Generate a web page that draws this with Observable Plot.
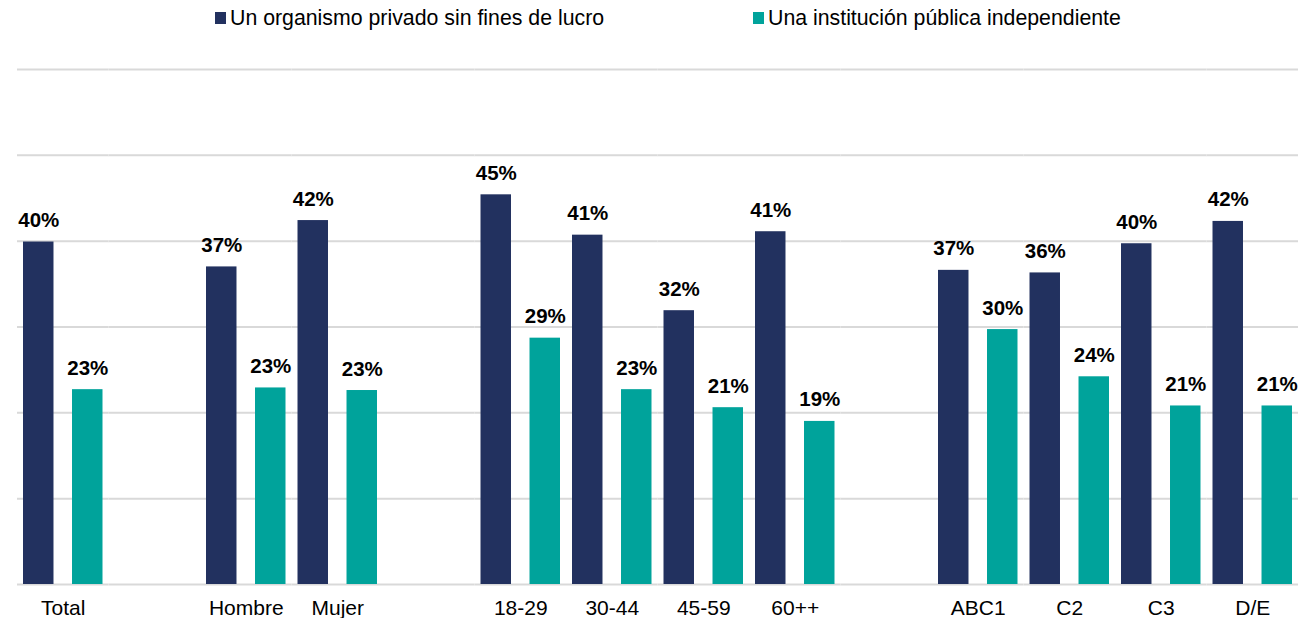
<!DOCTYPE html>
<html>
<head>
<meta charset="utf-8">
<script src="https://cdn.jsdelivr.net/npm/d3@7"></script>
<script src="https://cdn.jsdelivr.net/npm/@observablehq/plot@0.6"></script>
<style>
  html, body { margin: 0; padding: 0; background: #fff; }
  body { width: 1314px; height: 618px; overflow: hidden; font-family: "Liberation Sans", Arial, sans-serif; }
  #legend { height: 36px; display: flex; align-items: center; font-size: 21.3px; color: #000; position: relative; }
  .item { position: absolute; top: 0; height: 36px; display: flex; align-items: center; white-space: nowrap; }
  .sw { width: 11px; height: 12px; margin-right: 4px; display: inline-block; }
</style>
</head>
<body>
<div id="legend"></div>
<div id="chart"></div>
<script>
// Data
const categories = ["Total", "Hombre", "Mujer", "18-29", "30-44", "45-59", "60++", "ABC1", "C2", "C3", "D/E"];
const slots = ["Total", " ", "Hombre", "Mujer", "  ", "18-29", "30-44", "45-59", "60++", "   ", "ABC1", "C2", "C3", "D/E"];
const series = ["Un organismo privado sin fines de lucro", "Una institución pública independiente"];
const privado = [39.9, 37.0, 42.4, 45.4, 40.7, 31.9, 41.1, 36.6, 36.3, 39.7, 42.3];
const publica = [22.7, 22.9, 22.6, 28.7, 22.7, 20.6, 19.0, 29.7, 24.2, 20.8, 20.8];
const gridTicks = [0, 10, 20, 30, 40, 50, 60];
const colors = ["#22315f", "#00a39b"];

// Build table (blank slots keep facets present so gridlines stay continuous)
const rows = [];
for (const slot of slots) {
  const i = categories.indexOf(slot);
  rows.push({slot, series: series[0], value: i >= 0 ? privado[i] : null});
  rows.push({slot, series: series[1], value: i >= 0 ? publica[i] : null});
}

// Legend
const legend = document.getElementById("legend");
const legendLeft = [215, 753];
series.forEach((s, k) => {
  const it = document.createElement("div");
  it.className = "item";
  it.style.left = legendLeft[k] + "px";
  const sw = document.createElement("span");
  sw.className = "sw";
  sw.style.background = colors[k];
  it.appendChild(sw);
  it.appendChild(document.createTextNode(s));
  legend.appendChild(it);
});

const fmt = v => (v == null ? null : Math.round(v) + "%");

const chart = Plot.plot({
  width: 1314,
  height: 582,
  marginTop: 33,
  marginBottom: 34,
  marginLeft: 17,
  marginRight: 16,
  style: {fontFamily: "'Liberation Sans', Arial, sans-serif", fontSize: "21px", color: "#000", background: "#fff"},
  fx: {domain: slots, padding: 0, round: false, axis: "bottom", tickSize: 0, tickPadding: 16, label: null},
  x: {domain: series, paddingInner: 0.378, paddingOuter: 0.1225, round: false, axis: null},
  y: {domain: [0, 60], axis: null},
  color: {domain: series, range: colors},
  marks: [
    Plot.ruleY(gridTicks, {stroke: "#d9d9d9", strokeWidth: 2}),
    Plot.barY(rows, {fx: "slot", x: "series", y1: 0, y2: "value", fill: "series"}),
    Plot.text(rows, {fx: "slot", x: "series", y: "value", text: d => fmt(d.value), lineAnchor: "bottom", dy: -15, fontSize: 20.5, fontWeight: "bold", fill: "#000"})
  ]
});
document.getElementById("chart").appendChild(chart);
</script>
</body>
</html>
